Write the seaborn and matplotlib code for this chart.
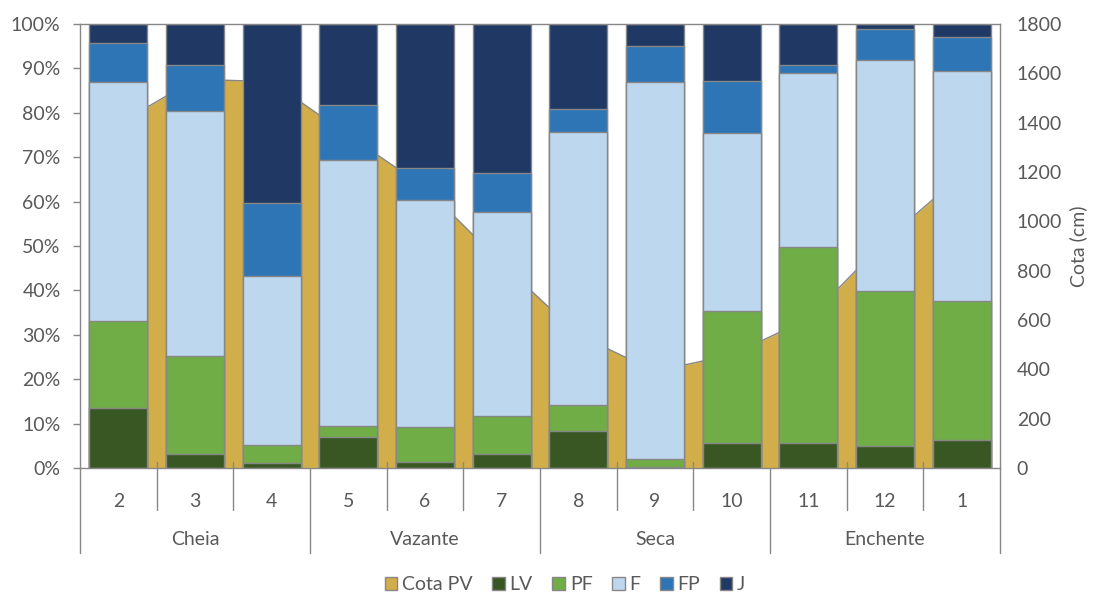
# seasonal composition (% per class) vs. river stage (Cota PV)
import numpy as np
import pandas as pd
import seaborn as sns
import matplotlib.pyplot as plt
from matplotlib.patches import Patch
from matplotlib.ticker import PercentFormatter

# months in hydrological order and their season groups
months = ["2", "3", "4", "5", "6", "7", "8", "9", "10", "11", "12", "1"]
seasons = ["Cheia", "Vazante", "Seca", "Enchente"]

# river stage (cm), right axis
cota_pv = [1395, 1576, 1566, 1349, 1138, 830, 540, 392, 459, 605, 920, 1190]

# class shares (%) per month
lv = [13.6, 3.1, 1.2, 6.9, 1.4, 3.2, 8.4, 0.2, 5.7, 5.7, 5.0, 6.3]
pf = [19.6, 22.1, 3.9, 2.6, 7.8, 8.4, 5.8, 1.9, 29.6, 44.0, 34.9, 31.4]
f = [53.8, 55.1, 38.2, 59.9, 51.1, 46.1, 61.5, 84.8, 40.2, 39.2, 52.0, 51.7]
fp = [8.8, 10.5, 16.3, 12.4, 7.3, 8.7, 5.1, 8.1, 11.7, 1.9, 6.9, 7.7]
j = [4.2, 9.2, 40.4, 18.2, 32.4, 33.6, 19.2, 5.0, 12.8, 9.2, 1.2, 2.9]

classes = ["LV", "PF", "F", "FP", "J"]
colors = {"Cota PV": "#D2AE4B", "LV": "#385723", "PF": "#70AD47",
          "F": "#BDD7EE", "FP": "#2E75B6", "J": "#1F3864"}
edge = "#878787"
text_c = "#595959"

df = pd.DataFrame({"Mes": months, "LV": lv, "PF": pf, "F": f, "FP": fp, "J": j})
cum = df[classes].cumsum(axis=1)

sns.set_theme(style="white")
plt.rcParams["font.family"] = ["Lato", "DejaVu Sans"]
plt.rcParams["font.size"] = 14

fig = plt.figure(figsize=(10.97, 5.95), dpi=100)
ax = fig.add_axes([80 / 1097, 127 / 595, 920 / 1097, 444 / 595])
ax2 = ax.twinx()

# area for the stage, behind the bars
x = np.arange(len(months))
ax2.fill_between(x, cota_pv, 0, color=colors["Cota PV"], linewidth=0)
sns.lineplot(x=x, y=cota_pv, color=edge, linewidth=1.0, ax=ax2)
ax2.set_ylim(0, 1800)
ax2.set_yticks(range(0, 1801, 200))
ax2.set_ylabel("Cota (cm)", color=text_c, fontsize=14, labelpad=5)
ax2.tick_params(axis="y", length=0, pad=12, labelcolor=text_c, labelsize=14)
for s in ax2.spines.values():
    s.set_visible(False)

# stacked bars: draw cumulative tops from the top layer down
for c in classes[::-1]:
    sns.barplot(x=df["Mes"], y=cum[c], order=months, color=colors[c], saturation=1,
                width=0.76, edgecolor=edge, linewidth=1.0, ax=ax)

ax.set_zorder(ax2.get_zorder() + 1)
ax.patch.set_visible(False)
ax.set_xlim(-0.5, len(months) - 0.5)
ax2.set_xlim(-0.5, len(months) - 0.5)
ax.set_ylim(0, 100)
ax.set_yticks(range(0, 101, 10))
ax.yaxis.set_major_formatter(PercentFormatter(decimals=0))
ax.set_xlabel("")
ax.set_ylabel("")
ax.tick_params(axis="y", left=True, length=5, width=1, color=edge, pad=9,
               labelcolor=text_c, labelsize=14)
ax.tick_params(axis="x", bottom=False, length=0, pad=18, labelcolor=text_c, labelsize=14)
for s in ax.spines.values():
    s.set_color(edge)
    s.set_linewidth(1.0)

# category separators and season groups below the axis
tr = ax.get_xaxis_transform()
for i in range(len(months) + 1):
    xb = i - 0.5
    if i % 3 == 0:
        ax.plot([xb, xb], [0, -0.191], transform=tr, color=edge, lw=1.0, clip_on=False)
    else:
        ax.plot([xb, xb], [0.013, -0.095], transform=tr, color=edge, lw=1.0, clip_on=False)
for k, name in enumerate(seasons):
    ax.text(3 * k + 1, -0.162, name, transform=tr, ha="center", va="center",
            color=text_c, fontsize=14)

handles = [Patch(facecolor=colors[n], edgecolor=edge, linewidth=1.0)
           for n in ["Cota PV"] + classes]
leg = fig.legend(handles, ["Cota PV"] + classes, loc="center", bbox_to_anchor=(0.515, 0.017),
                 ncol=6, frameon=False, handlelength=0.65, handleheight=0.65,
                 handletextpad=0.25, columnspacing=1.0, fontsize=14)
for t in leg.get_texts():
    t.set_color(text_c)

fig.savefig("out.png", dpi=100)
